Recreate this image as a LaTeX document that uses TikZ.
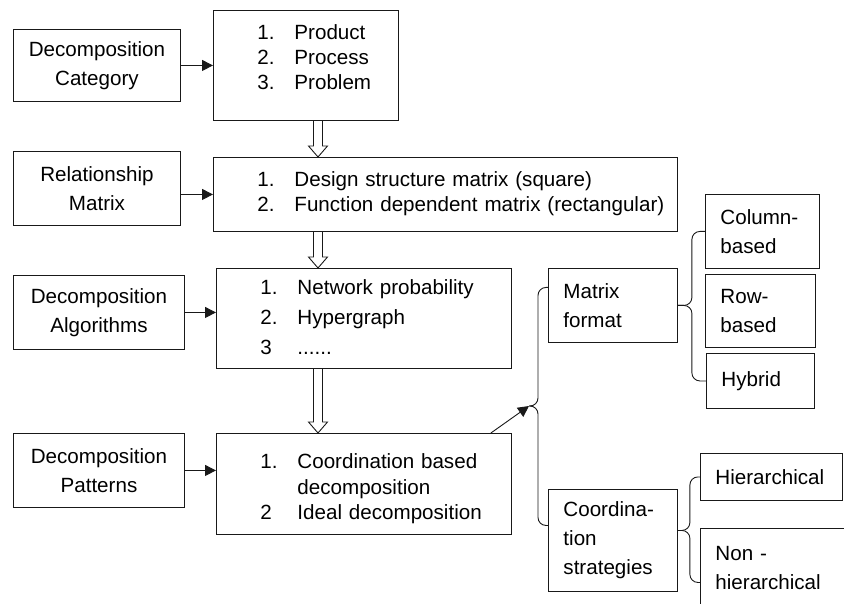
\documentclass[tikz,border=0pt]{standalone}
\usepackage{fontspec}
\setmainfont{Liberation Sans}
\usepackage{array}
\usetikzlibrary{
  arrows.meta,
  calc
}
\newcommand{\boxlist}[2]{{\renewcommand{\arraystretch}{#1}%
  \begin{tabular}{@{\hspace{40pt}}p{37pt}@{}l@{}}#2\end{tabular}}}

\begin{document}
\begin{tikzpicture}[
      x=1pt,y=-1pt,
      box/.style={
         rectangle,
         draw=black!90,
         line width=0.9pt,
         anchor=north west,
         inner sep=4pt,
         text=black,
         font=\fontsize{20.6}{29}\selectfont
      },
      source/.style={
         box,
         align=center
      },
      listbox/.style={
         box,
         align=left
      },
      option/.style={
         box,
         align=left,
         inner xsep=15pt
      },
      tip/.style={-{Triangle[length=11pt,width=11pt]}},
      brace/.style={rounded corners=8pt},
      hollow arrow/.style={
         to path={let \p1=(\tikztostart), \p2=(\tikztotarget) in
           (\x1-4.5pt,\y1) -- (\x1-4.5pt,\y2+11pt) -- (\x1-9.5pt,\y2+11pt)
           -- (\x1,\y2) -- (\x1+9.5pt,\y2+11pt) -- (\x1+4.5pt,\y2+11pt)
           -- (\x1+4.5pt,\y1)}
      },
      line width=0.9pt,draw=black!90
    ]
    \useasboundingbox (0,0) rectangle (844,604);
    \coordinate (axis) at (318,0);

    \node (n11) [source, minimum width=167pt, minimum height=72pt] at (13,29) {Decomposition\\Category};
    \node (n12) [listbox, text width=177pt, minimum height=110pt] at (213,10)
       {\boxlist{0.86}{1.&Product\\2.&Process\\3.&Problem\\[11pt]}};
    \node (n21) [source, minimum width=167pt, minimum height=74pt] at (13,151) {Relationship\\Matrix};
    \node (n22) [listbox, text width=456pt, minimum height=74pt] at (213,157)
       {\boxlist{0.86}{1.&Design structure matrix (square)\\2.&Function dependent matrix (rectangular)}};
    \node (n31) [source, minimum width=171pt, minimum height=74pt] at (13,275) {Decomposition\\Algorithms};
    \node (n32) [listbox, text width=287pt, minimum height=100pt] at (216,268)
       {\boxlist{1.03}{1.&Network probability\\2.&Hypergraph\\3&......}};
    \node (n41) [source, minimum width=171pt, minimum height=74pt] at (13,433) {Decomposition\\Patterns};
    \node (n42) [listbox, text width=287pt, minimum height=101pt] at (216,433)
       {\raisebox{-5pt}[\height][\depth]{\boxlist{0.88}{1.&Coordination based\\&decomposition\\2&Ideal decomposition}}};

    \node (n33) [option, text width=99pt, minimum height=74pt] at (548,268) {Matrix\\format};
    \node (n43) [option, text width=99pt, minimum height=102pt] at (548,489) {Coordina-\\tion\\strategies};
    \node (n34) [option, text width=84pt, minimum height=74pt] at (705,194) {Column-\\based};
    \node (n35) [option, text width=80pt, minimum height=73pt] at (705,274) {Row-\\based};
    \node (n36) [option, text width=78pt, minimum height=55pt] at (706,353) {Hybrid};
    \node (n44) [option, text width=112pt, minimum height=47pt] at (700,453) {Hierarchical};
    \node (n45) [option, text width=140pt, minimum height=80pt] at (700,528) {Non -\\hierarchical};

    \draw[tip] (n11.east) -- (n11.east -| n12.west);
    \draw[tip] (n21.east |- n22.west) -- (n22.west);
    \draw[tip] (n31.east) -- (n31.east -| n32.west);
    \draw[tip] (n41.east) -- (n41.east -| n42.west);

    \draw[hollow arrow] (n12.south -| axis) to (n22.north -| axis);
    \draw[hollow arrow] (n22.south -| axis) to (n32.north -| axis);
    \draw[hollow arrow] (n32.south -| axis) to (n42.north -| axis);

    \coordinate (fork) at (529,406);
    \draw[tip] ([xshift=-21pt]n42.north east) -- (fork);
    \draw[brace] (fork) -- ++(9,0) |- ([yshift=18pt]n33.west);
    \draw[brace] (fork) -- ++(9,0) |- ([yshift=15pt]n43.west);
    \draw[brace] (n33.east) -- ++(14,0) |- (n34.west);
    \draw[brace] (n33.east) -- ++(14,0) |- (n36.west);
    \draw[brace] ([yshift=10pt]n43.east) -- ++(12,0) |- (n44.west);
    \draw[brace] ([yshift=10pt]n43.east) -- ++(12,0) |- ([yshift=-14pt]n45.west);
\end{tikzpicture}
\end{document}
